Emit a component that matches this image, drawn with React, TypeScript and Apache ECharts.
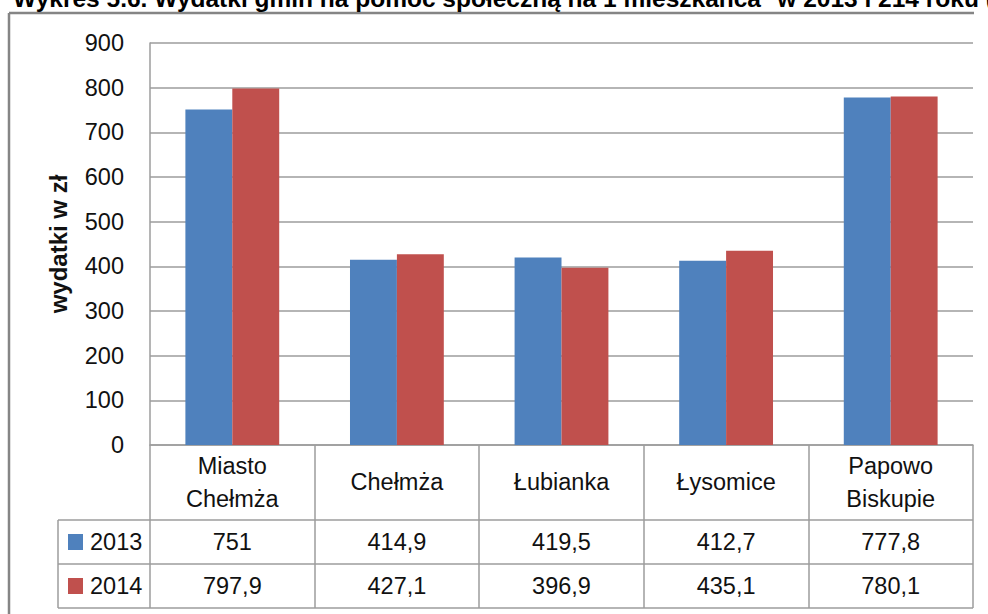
import React, { useEffect, useRef } from "react";
import * as echarts from "echarts";

const categories = ["Miasto\nChełmża", "Chełmża", "Łubianka", "Łysomice", "Papowo\nBiskupie"];
const values2013 = [751, 414.9, 419.5, 412.7, 777.8];
const values2014 = [797.9, 427.1, 396.9, 435.1, 780.1];
const seriesNames = ["2013", "2014"];
const yTicks = { min: 0, max: 900, interval: 100 };
const titleText = "Wykres 5.6. Wydatki gmin na pomoc społeczną na 1 mieszkańca* w 2013 i 214 roku (zł)";
const yName = "wydatki w zł";

const FONT = "'Liberation Sans', Arial, sans-serif";
const FS = 23.5;
const GRID_LEFT = 150;
const GRID_RIGHT_X = 973;
const GRID_TOP = 43;
const AXIS_Y = 445;
const ROW1 = 520;
const ROW2 = 564;
const ROW3 = 608;
const TABLE_LEFT = 58;
const LINE = "#9d9d9d";

const fmt = (v: number) => String(v).replace(".", ",");

export default function App() {
  const ref = useRef<HTMLDivElement>(null);
  useEffect(() => {
    if (!ref.current) return;
    const chart = echarts.init(ref.current, undefined, { renderer: "svg" });
    const tableLine = (y: number) => ({
      type: "line",
      shape: { x1: TABLE_LEFT, y1: y, x2: GRID_RIGHT_X, y2: y },
      style: { stroke: LINE, lineWidth: 1.5 },
      silent: true,
    });
    const labelAxis = (margin: number, formatter: any, showLine: boolean) => ({
      type: "category",
      data: categories,
      position: "bottom",
      gridIndex: 0,
      axisLine: { show: showLine, lineStyle: { color: LINE, width: 1.5 } },
      axisTick: showLine
        ? { show: true, length: ROW3 - AXIS_Y, lineStyle: { color: LINE, width: 1.5 } }
        : { show: false },
      splitLine: { show: false },
      axisLabel: {
        interval: 0,
        margin,
        verticalAlign: "middle",
        color: "#111",
        fontSize: FS,
        lineHeight: 33,
        fontFamily: FONT,
        formatter,
      },
    });
    chart.setOption({
      animation: false,
      backgroundColor: "#fff",
      grid: {
        left: GRID_LEFT,
        right: 988 - GRID_RIGHT_X,
        top: GRID_TOP,
        bottom: 614 - AXIS_Y,
        containLabel: false,
      },
      legend: {
        data: seriesNames,
        orient: "vertical",
        left: 68,
        top: ROW1 + 8,
        itemWidth: 15,
        itemHeight: 16,
        itemGap: 16,
        icon: "rect",
        padding: 0,
        textStyle: { fontSize: FS, lineHeight: 28, fontFamily: FONT, color: "#111", padding: [0, 0, 0, 2] },
      },
      xAxis: [
        labelAxis(37, (v: string) => v, true),
        labelAxis((ROW1 + ROW2) / 2 - AXIS_Y, (_v: string, i: number) => fmt(values2013[i]), false),
        labelAxis((ROW2 + ROW3) / 2 - AXIS_Y, (_v: string, i: number) => fmt(values2014[i]), false),
      ],
      yAxis: {
        type: "value",
        min: yTicks.min,
        max: yTicks.max,
        interval: yTicks.interval,
        name: yName,
        nameLocation: "middle",
        nameRotate: 90,
        nameGap: 80,
        nameTextStyle: { fontSize: 24, fontWeight: "bold", fontFamily: FONT, color: "#111" },
        axisLine: { show: true, lineStyle: { color: LINE, width: 1.5 } },
        axisTick: { show: false },
        axisLabel: { margin: 26, fontSize: FS, fontFamily: FONT, color: "#111" },
        splitLine: { show: true, lineStyle: { color: LINE, width: 1.5 } },
      },
      series: [
        {
          name: seriesNames[0],
          type: "bar",
          xAxisIndex: 0,
          data: values2013,
          barGap: "0%",
          barCategoryGap: "43%",
          itemStyle: { color: "#4F81BD" },
        },
        {
          name: seriesNames[1],
          type: "bar",
          xAxisIndex: 0,
          data: values2014,
          barGap: "0%",
          barCategoryGap: "43%",
          itemStyle: { color: "#C0504D" },
        },
      ],
      graphic: [
        {
          type: "line",
          shape: { x1: 9, y1: 13, x2: 974, y2: 13 },
          style: { stroke: "#858585", lineWidth: 2.5 },
          silent: true,
        },
        {
          type: "line",
          shape: { x1: 9, y1: 13, x2: 9, y2: 620 },
          style: { stroke: "#858585", lineWidth: 2.5 },
          silent: true,
        },
        tableLine(ROW1),
        tableLine(ROW2),
        tableLine(ROW3),
        {
          type: "line",
          shape: { x1: TABLE_LEFT, y1: ROW1, x2: TABLE_LEFT, y2: ROW3 },
          style: { stroke: LINE, lineWidth: 1.5 },
          silent: true,
        },
        {
          type: "text",
          x: 13,
          y: -2,
          style: {
            text: titleText,
            fontSize: 24.5,
            fontWeight: "bold",
            fontFamily: FONT,
            fill: "#000",
            verticalAlign: "middle",
          },
          silent: true,
        },
      ],
    });
    return () => chart.dispose();
  }, []);
  return (
    <div
      ref={ref}
      style={{ position: "fixed", left: 0, top: 0, width: 988, height: 614 }}
    />
  );
}
